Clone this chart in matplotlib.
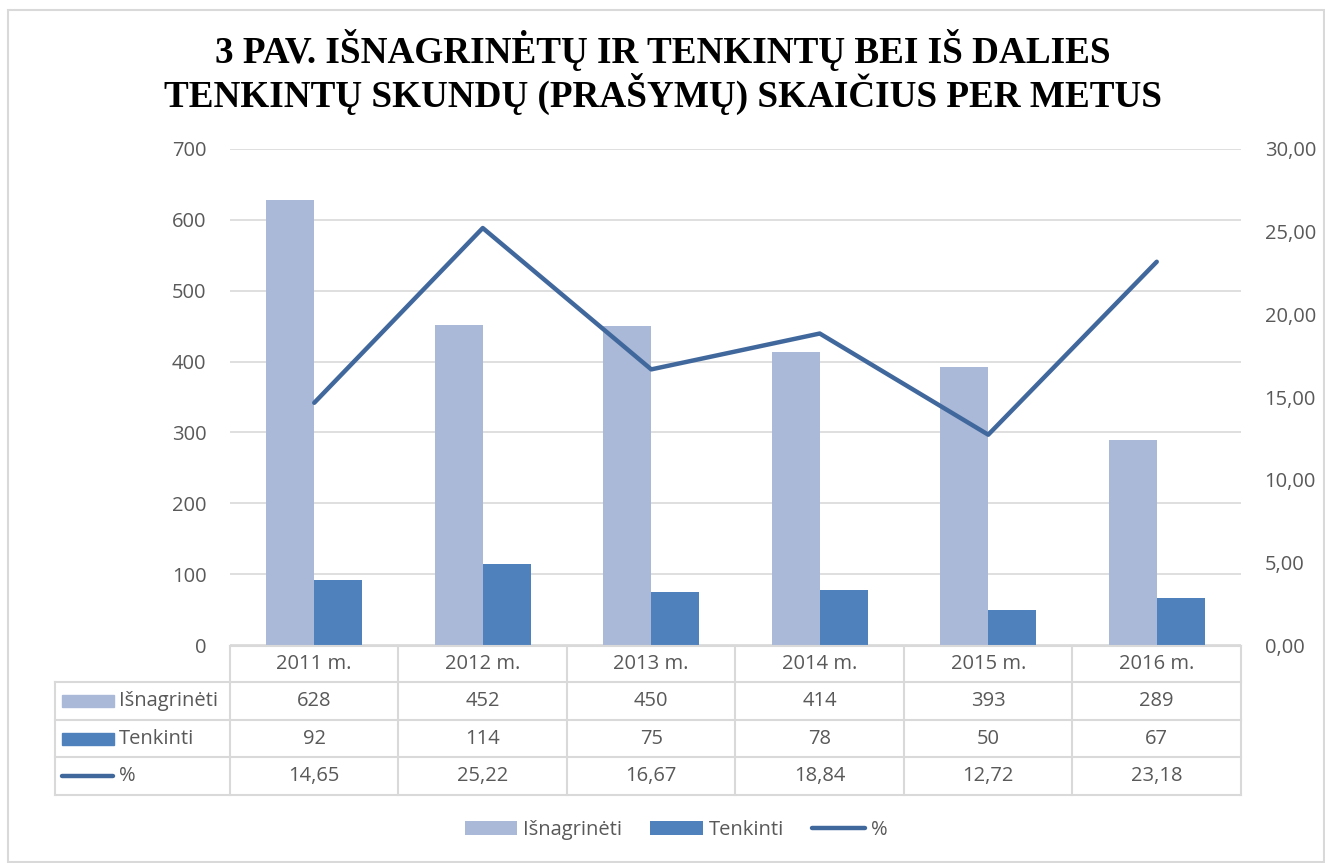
import matplotlib.pyplot as plt
from matplotlib.lines import Line2D
from matplotlib.patches import Rectangle, Patch
import matplotlib.transforms as mtransforms
import numpy as np

years = ['2011 m.', '2012 m.', '2013 m.', '2014 m.', '2015 m.', '2016 m.']
isnagrineti = [628, 452, 450, 414, 393, 289]
tenkinti = [92, 114, 75, 78, 50, 67]
procentai = [14.65, 25.22, 16.67, 18.84, 12.72, 23.18]

c_light = '#AAB9D7'
c_dark = '#4F81BD'
c_line = '#41689D'
c_grid = '#D9D9D9'
c_text = '#595959'
font = 'Open Sans'
fs = 14.5

W, H = 1325, 863
fig = plt.figure(figsize=(W / 100, H / 100), dpi=100)

def fx(px):
    return px / W

def fy(py):
    return 1 - py / H

# outer border
fig.add_artist(Rectangle((fx(8), fy(862)), fx(1316), fy(10) - fy(862),
                         transform=fig.transFigure, fill=False,
                         edgecolor='#D9D9D9', lw=1.5))

ax = fig.add_axes([fx(230), fy(645), fx(1241) - fx(230), fy(149) - fy(645)])
ax2 = ax.twinx()

x = np.arange(len(years))
w = 0.285
ax.bar(x - w / 2, isnagrineti, w, color=c_light, zorder=3)
ax.bar(x + w / 2, tenkinti, w, color=c_dark, zorder=3)
ax2.plot(x, procentai, color=c_line, lw=3.2, solid_capstyle='round', zorder=4)

ax.set_xlim(-0.5, len(years) - 0.5)
ax.set_ylim(0, 700)
ax2.set_ylim(0, 30)
ax.set_yticks(range(0, 701, 100))
ax2.set_yticks(range(0, 31, 5))
ax2.set_yticklabels([f'{v:.2f}'.replace('.', ',') for v in range(0, 31, 5)])
ax.yaxis.grid(True, color=c_grid, lw=1.2, zorder=0)
ax.set_axisbelow(True)
ax.set_xticks([])
for a in (ax, ax2):
    for s in a.spines.values():
        s.set_visible(False)
    a.tick_params(axis='y', length=0, labelsize=fs, labelcolor=c_text)
    for lab in a.get_yticklabels():
        lab.set_fontfamily(font)
ax.tick_params(axis='y', pad=17)
ax2.tick_params(axis='y', pad=17)

# data table under the plot
tr = mtransforms.blended_transform_factory(ax.transData, fig.transFigure)
row_y = [646, 682, 720, 757, 795]
tcol = c_grid
# horizontal lines
fig.add_artist(Line2D([-0.5, len(years) - 0.5], [fy(row_y[0])] * 2, transform=tr, color=tcol, lw=1.5))
for ry in row_y[1:]:
    fig.add_artist(Line2D([fx(55), fx(1241)], [fy(ry)] * 2, transform=fig.transFigure, color=tcol, lw=1.5))
# vertical lines
for i in range(len(years) + 1):
    fig.add_artist(Line2D([i - 0.5, i - 0.5], [fy(row_y[0]), fy(row_y[-1])], transform=tr, color=tcol, lw=1.5))
fig.add_artist(Line2D([fx(55), fx(55)], [fy(row_y[1]), fy(row_y[-1])], transform=fig.transFigure, color=tcol, lw=1.5))

def mid(r):
    return fy((row_y[r] + row_y[r + 1]) / 2)

rows = [years,
        [str(v) for v in isnagrineti],
        [str(v) for v in tenkinti],
        [f'{v:.2f}'.replace('.', ',') for v in procentai]]
for r, vals in enumerate(rows):
    for i, v in enumerate(vals):
        fig.text(i, mid(r), v, transform=tr, ha='center', va='center',
                 fontsize=fs, color=c_text, family=font)

labels = ['Išnagrinėti', 'Tenkinti', '%']
for r, lab in enumerate(labels, start=1):
    fig.text(fx(119), mid(r), lab, ha='left', va='center', fontsize=fs,
             color=c_text, family=font)
fig.add_artist(Rectangle((fx(62), mid(1) - 6 / H), 52 / W, 12 / H, transform=fig.transFigure, color=c_light))
fig.add_artist(Rectangle((fx(62), mid(2) - 6 / H), 52 / W, 12 / H, transform=fig.transFigure, color=c_dark))
fig.add_artist(Line2D([fx(62), fx(113)], [mid(3)] * 2, transform=fig.transFigure, color=c_line, lw=3.2, solid_capstyle='round'))

# title
fig.text(0.5, fy(72), '3 PAV. IŠNAGRINĖTŲ IR TENKINTŲ BEI IŠ DALIES\nTENKINTŲ SKUNDŲ (PRAŠYMŲ) SKAIČIUS PER METUS',
         ha='center', va='center', fontsize=26.7, fontweight='bold',
         family='Liberation Serif', color='black', linespacing=1.05)

# legend
handles = [Patch(facecolor=c_light, label='Išnagrinėti'),
           Patch(facecolor=c_dark, label='Tenkinti'),
           Line2D([], [], color=c_line, lw=3.2, solid_capstyle='round', label='%')]
fig.legend(handles=handles, loc='center', bbox_to_anchor=(fx(676), fy(830)), ncol=3,
           frameon=False, prop={'family': font, 'size': fs}, labelcolor=c_text,
           handlelength=2.6, handleheight=0.7, columnspacing=1.4, handletextpad=0.3)

fig.savefig('out.png', dpi=100)
